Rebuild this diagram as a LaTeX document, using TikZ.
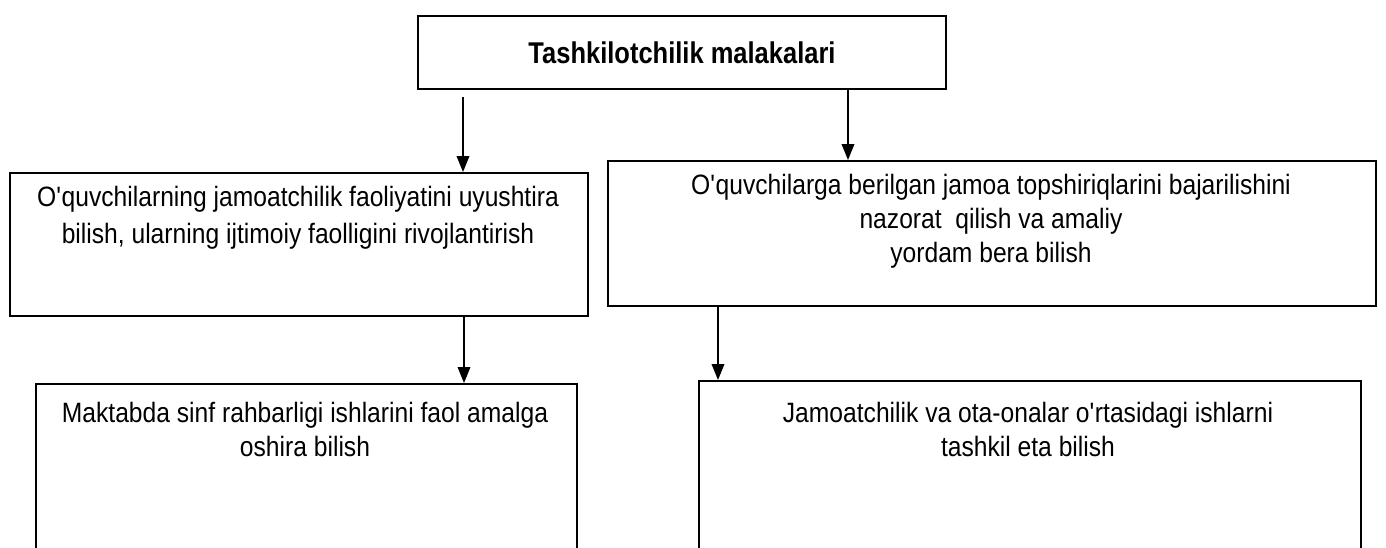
\documentclass[tikz,border=0pt]{standalone}
\usepackage{fontspec}
\setmainfont{Liberation Sans}
\newfontfamily\bodyfont[FakeStretch=0.88]{Liberation Sans}
\newfontfamily\titlefont[FakeStretch=0.85]{Liberation Sans}
\usetikzlibrary{arrows.meta}
\begin{document}
\begin{tikzpicture}[x=0.75pt,y=-0.75pt,
  box/.style={draw, line width=1.5pt, inner sep=0pt, anchor=north west},
  txt/.style={align=center, font=\bodyfont\fontsize{21}{25.5}\selectfont, inner sep=0pt, anchor=north},
  ttl/.style={font=\titlefont\fontsize{22.5}{26}\selectfont\bfseries, inner sep=0pt},
  arr/.style={line width=1.1pt, -{Triangle[length=12pt,width=9.5pt]}}]
\clip (0,0) rectangle (1386,547);
\fill[white] (0,0) rectangle (1386,547);
% boxes
\node[box, minimum width=396pt, minimum height=54.75pt] (top) at (417,15) {};
\node[box, minimum width=433.5pt, minimum height=107.25pt] (lm) at (9,172) {};
\node[box, minimum width=576pt, minimum height=108.75pt] (rm) at (607,160) {};
\node[box, minimum width=405.75pt, minimum height=132.75pt] (lb) at (35,383) {};
\node[box, minimum width=496.5pt, minimum height=135pt] (rb) at (698,380) {};
% texts
\node[ttl] (ttop) at (top.center) {Tashkilotchilik malakalari};
\node[txt, font=\bodyfont\fontsize{21}{27.5}\selectfont] (tlm) at (298,186) {O\textquotesingle quvchilarning jamoatchilik faoliyatini uyushtira\\bilish, ularning ijtimoiy faolligini rivojlantirish};
\node[txt] (trm) at (991,174) {O\textquotesingle quvchilarga berilgan jamoa topshiriqlarini bajarilishini\\nazorat\ \ qilish va amaliy\\yordam bera bilish};
\node[txt] (tlb) at (305,402) {Maktabda sinf rahbarligi ishlarini faol amalga\\oshira bilish};
\node[txt] (trb) at (1028,402) {Jamoatchilik va ota-onalar o\textquotesingle rtasidagi ishlarni\\tashkil eta bilish};
% connectors
\coordinate (s1) at (463,97);
\coordinate (s2) at (848,88);
\coordinate (s3) at (464,315);
\coordinate (s4) at (718,305);
\draw[arr] (s1) -- (s1 |- lm.north);
\draw[arr] (s2) -- (s2 |- rm.north);
\draw[arr] (s3) -- (s3 |- lb.north);
\draw[arr] (s4) -- (s4 |- rb.north);
\end{tikzpicture}
\end{document}
